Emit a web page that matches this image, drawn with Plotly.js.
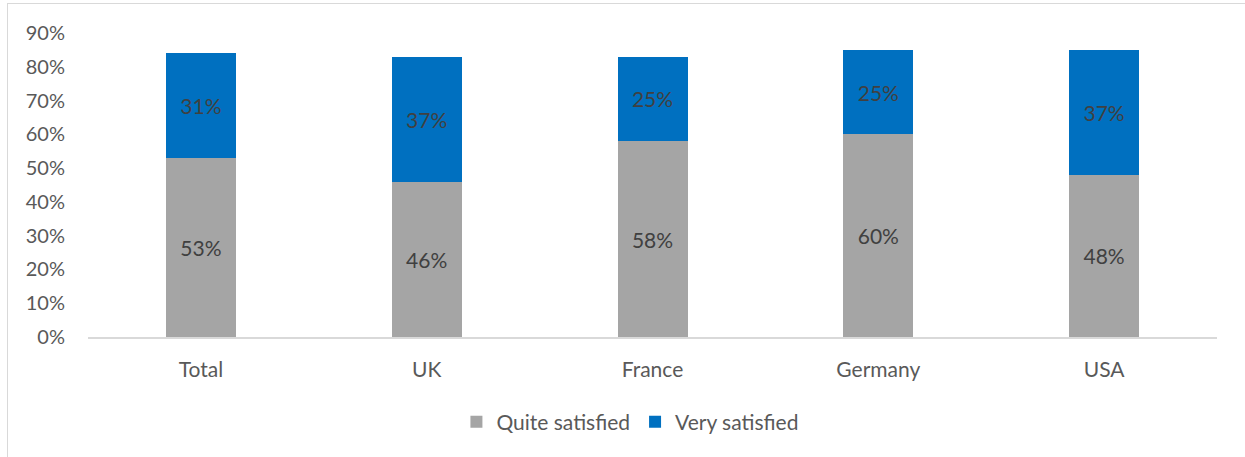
<!DOCTYPE html>
<html><head><meta charset="utf-8">
<script src="https://cdn.plot.ly/plotly-3.0.1.min.js"></script>
<style>
html,body{margin:0;padding:0;background:#fff;}
#frame{position:absolute;left:7px;top:3px;width:1300px;height:500px;border-left:1.5px solid #d9d9d9;border-top:1.5px solid #d9d9d9;}
#chart{position:absolute;left:0;top:0;width:1245px;height:457px;}
</style></head>
<body>
<div id="frame"></div>
<div id="chart"></div>
<script>
const categories = ["Total", "UK", "France", "Germany", "USA"];
const quiteSatisfied = [0.53, 0.46, 0.58, 0.60, 0.48];
const verySatisfied = [0.31, 0.37, 0.25, 0.25, 0.37];
const seriesNames = ["Quite satisfied", "Very satisfied"];
const yTicks = [0, 0.1, 0.2, 0.3, 0.4, 0.5, 0.6, 0.7, 0.8, 0.9];

const font = "Lato, 'Open Sans', sans-serif";
const labelFont = {family: font, size: 21, color: "#404040"};

function pct(arr){ return arr.map(v => Math.round(v*100) + "%"); }

const traces = [
  {type:"bar", name:seriesNames[0], x:categories, y:quiteSatisfied, text:pct(quiteSatisfied),
   textposition:"inside", insidetextanchor:"middle", textfont:labelFont, marker:{color:"#A5A5A5"},
   hoverinfo:"none", textangle:0},
  {type:"bar", name:seriesNames[1], x:categories, y:verySatisfied, text:pct(verySatisfied),
   textposition:"inside", insidetextanchor:"middle", textfont:labelFont, marker:{color:"#0070C0"},
   hoverinfo:"none", textangle:0}
];

const layout = {
  width:1245, height:457,
  paper_bgcolor:"rgba(0,0,0,0)", plot_bgcolor:"rgba(0,0,0,0)",
  margin:{l:88, r:28, t:33, b:120},
  barmode:"stack", bargap:0.69,
  font:{family:font, color:"#595959", size:20},
  xaxis:{showgrid:false, showline:true, linecolor:"#d9d9d9", linewidth:1.5, ticks:"",
    tickfont:{family:font, size:21, color:"#595959"}, ticklabelstandoff:13},
  yaxis:{range:[0,0.9], tickvals:yTicks, ticktext:pct(yTicks), showgrid:false, showline:false,
    zeroline:false, ticks:"", tickfont:{family:font, size:20, color:"#595959"}, ticklabelstandoff:22},
  legend:{orientation:"h", x:0.48, xanchor:"center", y:-0.28, yanchor:"middle",
    font:{family:font, size:21, color:"#595959"}, traceorder:"normal", itemwidth:30},
  showlegend:true
};

Plotly.newPlot("chart", traces, layout, {displayModeBar:false, staticPlot:true});
</script>
</body></html>
